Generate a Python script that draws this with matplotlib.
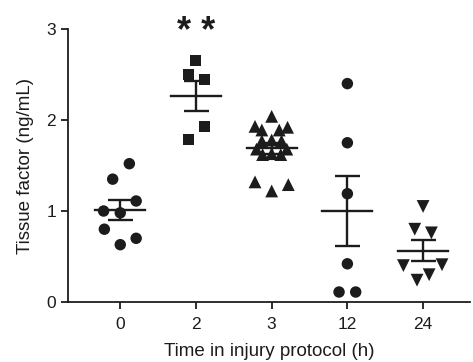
import numpy as np
import matplotlib
matplotlib.use("Agg")
import matplotlib.pyplot as plt

plt.rcParams['font.family'] = ['Liberation Sans', 'DejaVu Sans']

groups = ['0', '2', '3', '12', '24']
markers = ['o', 's', '^', 'o', 'v']

tf_0h = [1.52, 1.35, 1.11, 1.00, 0.98, 0.80, 0.70, 0.63]
dx_0h = [0.12, -0.10, 0.21, -0.22, 0.0, -0.21, 0.21, 0.0]

tf_2h = [2.65, 2.50, 2.45, 1.93, 1.79]
dx_2h = [0.0, -0.10, 0.11, 0.11, -0.10]

tf_3h = [2.04, 1.93, 1.89, 1.89, 1.92,
         1.77, 1.78, 1.77, 1.68, 1.68, 1.62, 1.63, 1.62,
         1.32, 1.22, 1.29]
dx_3h = [0.0, -0.22, -0.13, 0.10, 0.21,
         -0.13, 0.0, 0.13, -0.20, 0.20, -0.12, 0.0, 0.12,
         -0.22, 0.0, 0.22]

tf_12h = [2.40, 1.75, 1.19, 0.42, 0.11, 0.11]
dx_12h = [0.0, 0.0, 0.0, 0.0, -0.11, 0.11]

tf_24h = [1.05, 0.80, 0.76, 0.40, 0.41, 0.30, 0.24]
dx_24h = [0.0, -0.11, 0.11, -0.26, 0.25, 0.08, -0.08]

values = [tf_0h, tf_2h, tf_3h, tf_12h, tf_24h]
offsets = [dx_0h, dx_2h, dx_3h, dx_12h, dx_24h]

ink = '#1c1c1c'

fig = plt.figure(figsize=(4.73, 3.62), dpi=100)
ax = fig.add_axes([0.1438, 0.1657, 0.8499, 0.7542])

for i, (v, dx, m) in enumerate(zip(values, offsets, markers)):
    v = np.array(v)
    xs = i + np.array(dx)
    sz = {'o': 68, 's': 62, '^': 85, 'v': 85}[m]
    ax.scatter(xs, v, marker=m, s=sz, color=ink, edgecolors='none', zorder=2)
    mean = v.mean()
    sem = v.std(ddof=1) / np.sqrt(len(v))
    ax.plot([i - 0.33, i + 0.33], [mean, mean], color=ink, lw=1.7, zorder=3)
    ax.errorbar(i, mean, yerr=sem, fmt='none', ecolor=ink, elinewidth=1.7,
                capsize=9, capthick=1.7, zorder=3)

# significance mark over the 2 h group
ax.text(1, 2.86, '* *', ha='center', va='baseline', fontsize=26,
        fontweight='bold', color=ink, clip_on=False)

ax.set_xlim(-0.69, 4.62)
ax.set_ylim(0, 3)
ax.set_xticks(range(len(groups)))
ax.set_xticklabels(groups)
ax.set_yticks([0, 1, 2, 3])
for s in ['top', 'right']:
    ax.spines[s].set_visible(False)
for s in ['left', 'bottom']:
    ax.spines[s].set_linewidth(1.3)
    ax.spines[s].set_color(ink)
ax.tick_params(axis='both', length=5, width=1.3, color=ink, labelsize=12.5,
               labelcolor=ink)
ax.tick_params(axis='x', pad=6)
ax.set_xlabel('Time in injury protocol (h)', fontsize=13.5, color=ink, labelpad=8)
ax.set_ylabel('Tissue factor (ng/mL)', fontsize=13.5, color=ink, labelpad=9)

fig.savefig('out.png', dpi=100)
